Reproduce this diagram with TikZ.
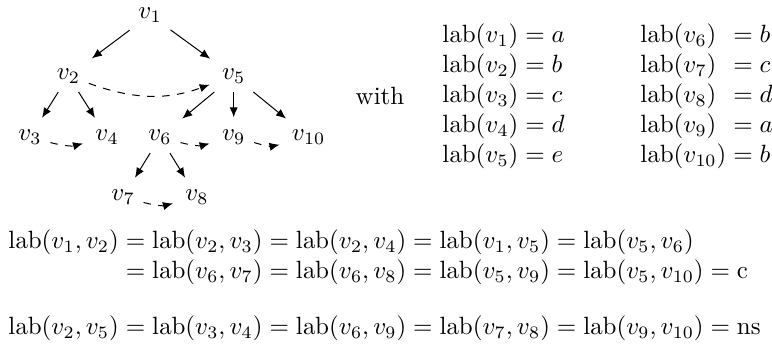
\documentclass[tikz,border=0pt]{standalone}
\usepackage{amsmath, amsfonts, amssymb}
\usepackage{tikz}
\usetikzlibrary{arrows.meta}

\tikzset{
  edge/.style={-{Latex[length=4pt,width=3.3pt]}, shorten >=1.5pt},
  nsedge/.style={edge, dashed},
}

\begin{document}
\begin{tikzpicture}[x=1pt, y=1pt]
    \useasboundingbox (0, 0) rectangle (309.2, -138.2);
    % the tree
    \node (v1) at (60.1, -6.0) {$v_1$};
    \node (v2) at (27.4, -30.4) {$v_2$};
    \node (v5) at (93.6, -30.4) {$v_5$};
    \node (v3) at (12.0, -54.9) {$v_3$};
    \node (v4) at (42.9, -54.9) {$v_4$};
    \node (v6) at (64.1, -54.9) {$v_6$};
    \node (v9) at (93.6, -54.9) {$v_9$};
    \node (v10) at (123.6, -54.9) {$v_{10}$};
    \node (v7) at (49.3, -78.9) {$v_7$};
    \node (v8) at (78.9, -78.9) {$v_8$};
    \draw[edge] (v1) -- (v2);
    \draw[edge] (v1) -- (v5);
    \draw[edge] (v2) -- (v3);
    \draw[edge] (v2) -- (v4);
    \draw[edge] (v5) -- (v6);
    \draw[edge] (v5) -- (v9);
    \draw[edge] (v5) -- (v10);
    \draw[edge] (v6) -- (v7);
    \draw[edge] (v6) -- (v8);
    \draw[nsedge] (v2) to[bend right=20] (v5);
    \draw[nsedge] (v3) to[bend right=15] (v4);
    \draw[nsedge] (v6) to[bend right=15] (v9);
    \draw[nsedge] (v9) to[bend right=15] (v10);
    \draw[nsedge] (v7) to[bend right=15] (v8);
    % labels of the vertices
    \node (with) at (152.2, -38.6) {with};
    \node[anchor=west, inner sep=0pt] (labl) at (177.0, -38.6) {$\begin{array}{@{}l@{}l@{}}
        \mathrm{lab}(v_1) & {}= a\\
        \mathrm{lab}(v_2) & {}= b\\
        \mathrm{lab}(v_3) & {}= c\\
        \mathrm{lab}(v_4) & {}= d\\
        \mathrm{lab}(v_5) & {}= e
      \end{array}$};
    \node[anchor=west, inner sep=0pt] (labr) at (256.3, -38.6) {$\begin{array}{@{}l@{}l@{}}
        \mathrm{lab}(v_6) & {}= b\\
        \mathrm{lab}(v_7) & {}= c\\
        \mathrm{lab}(v_8) & {}= d\\
        \mathrm{lab}(v_9) & {}= a\\
        \mathrm{lab}(v_{10}) & {}= b
      \end{array}$};
    % labels of the edges
    \node[anchor=west, inner sep=0pt] (labc) at (3.2, -103.1) {\setlength{\jot}{0pt}$\begin{aligned}
        \mathrm{lab}(v_1,v_2) &= \mathrm{lab}(v_2,v_3) = \mathrm{lab}(v_2,v_4) = \mathrm{lab}(v_1,v_5) = \mathrm{lab}(v_5,v_6)\\
        &= \mathrm{lab}(v_6,v_7) = \mathrm{lab}(v_6,v_8) = \mathrm{lab}(v_5,v_9) = \mathrm{lab}(v_5,v_{10}) = \mathrm{c}
      \end{aligned}$};
    \node[anchor=west, inner sep=0pt] (labns) at (3.2, -131.4) {$\mathrm{lab}(v_2,v_5) = \mathrm{lab}(v_3,v_4) = \mathrm{lab}(v_6,v_9) = \mathrm{lab}(v_7,v_8) = \mathrm{lab}(v_9,v_{10}) = \mathrm{ns}$};
\end{tikzpicture}
\end{document}
